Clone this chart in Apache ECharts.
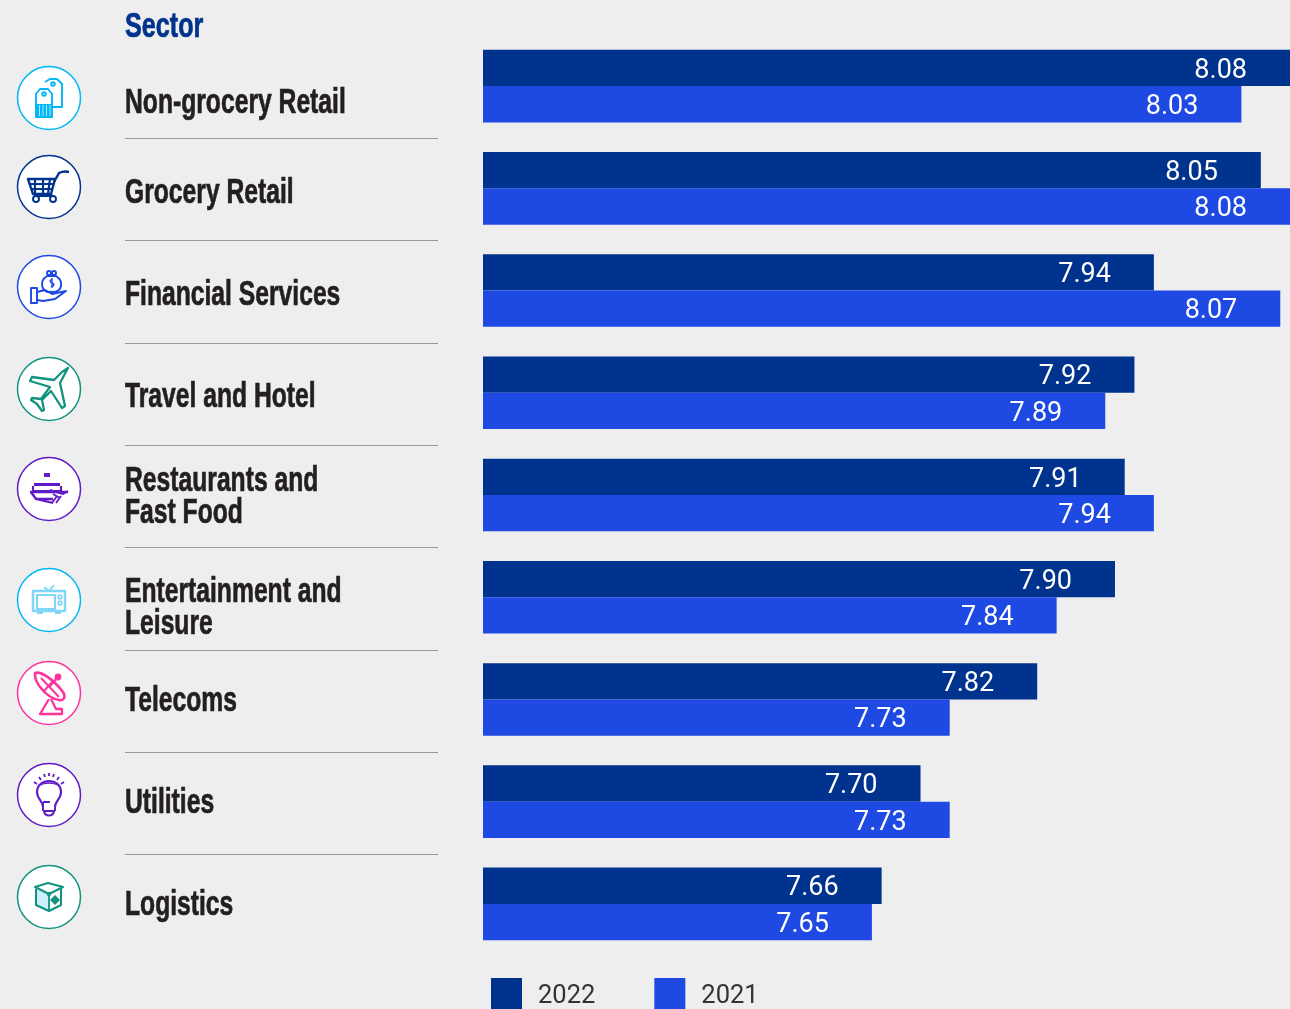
<!DOCTYPE html>
<html>
<head>
<meta charset="utf-8">
<style>
  html, body { margin: 0; padding: 0; background: #eeeeee; overflow: hidden; }
  #chart { width: 1290px; height: 1009px; }
</style>
<script src="https://cdn.jsdelivr.net/npm/echarts@6/dist/echarts.min.js"></script>
</head>
<body>
<div id="chart"></div>
<script>
// Sector scores by year
const sectors = [
  'Non-grocery Retail',
  'Grocery Retail',
  'Financial Services',
  'Travel and Hotel',
  'Restaurants and\nFast Food',
  'Entertainment and\nLeisure',
  'Telecoms',
  'Utilities',
  'Logistics'
];
const values2022 = [8.08, 8.05, 7.94, 7.92, 7.91, 7.90, 7.82, 7.70, 7.66];
const values2021 = [8.03, 8.08, 8.07, 7.89, 7.94, 7.84, 7.73, 7.73, 7.65];
const yearNames = ['2022', '2021'];
const columnTitle = 'Sector';

// Palette
const NAVY = '#00338D', COBALT = '#1E49E2', CYAN = '#00B8F5', PURPLE = '#5F1BC8',
      PINK = '#FD349C', TEAL = '#12937F', SKY = '#7FD6F8', INK = '#231F20';

// Left column layout, one entry per row
const iconY = [98, 187, 287, 389, 489, 600, 693, 795, 897];
const labelY = [103, 193, 295, 397, 497, 608, 701, 803, 905];
const ruleY = [138, 240, 343, 445, 547, 650, 752, 854];
const ICON_X = 49, ICON_R = 32, LABEL_X = 125, RULE_END = 438;
const HEAD_FONT = 'bold 35px "Liberation Sans Narrow", "Liberation Sans", sans-serif';
const HEAD_SCALE = 0.705;

// Icon pieces, in a 64x64 box whose corner is the corner of the circle
const ln = (d, w) => ({ d, w: (w || 1.6) * 1.2 });
const solid = (d, c) => ({ d, fill: c || true });
const dot = (x, y, r) => `M${x - r} ${y}A${r} ${r} 0 1 1 ${x + r} ${y}A${r} ${r} 0 1 1 ${x - r} ${y}Z`;

const icons = [
  { color: CYAN, parts: [
    ln('M28 16L33 13H40L45 18V41H36'), ln(dot(36, 18, 1.8)),
    ln('M19 28L23 23H31L35 28V51H19Z'), ln(dot(27, 28, 1.8)),
    solid('M19 38H35V51H19Z'),
    { d: 'M22.5 39V50M26 39V50M29.5 39V50M33 39V50', w: 0.9, stroke: '#bfeeff' }
  ]},
  { color: NAVY, parts: [
    ln('M11 24H38L34 39H16Z', 2), ln('M13 29H37M15 34H35.5M18 24V39M26 24V39M33 24L31 39', 1.8),
    ln('M37 27L42 18C44 17 48 16 52 17', 2), ln('M34 39L35 41H17', 1.6),
    ln(dot(19, 44, 3), 1.6), ln(dot(36, 44, 3), 1.6)
  ]},
  { color: COBALT, parts: [
    ln('M30 21C22 26 24 38 34 37C46 38 47 26 39 21Z'), ln(dot(32, 18, 2)), ln(dot(37, 18, 2)),
    ln('M14 33H20V48H14Z'), ln('M20 37L28 35L35 39L49 36L38 44L26 46L20 45'),
    ln('M35.5 25C33 24 32 27 35 28C38 29 37 32 34 31M35 23V33', 1.1)
  ]},
  { color: TEAL, parts: [
    ln('M51 11L43 26L48 49L45 51L34 34L25 43L27 53L25 54L20 47L14 43L15 41L24 42L33 30L13 24L15 20L37 23L45 15Z', 1.9)
  ]},
  { color: PURPLE, parts: [
    solid('M27 16H33V20H27Z'),
    solid('M17 26H43V29H17Z'),
    ln('M16 29V34H44V29', 1.8),
    ln('M13 35H51M14 35L19 42H36M36 46L19 42', 1.9),
    ln('M33 33L46 37L51 34M36 37L43 41M35 46L40 39M39 46L44 39', 1.6)
  ]},
  { color: SKY, ring: CYAN, parts: [
    ln('M16 23H48V43H16Z', 2), ln('M20 27H38V41H20Z', 1.8), ln(dot(43, 29, 1.8), 1.4), ln(dot(43, 35, 1.8), 1.4),
    ln('M27 19L32 23L37 17', 1.6), solid('M20 43H26V46H20ZM38 43H44V46H38Z')
  ]},
  { color: PINK, parts: [
    ln('M18 12C24 10 36 18 46 31C49 36 47 40 42 39C30 37 17 22 18 12Z', 2.2),
    ln('M24 17L42 36M36 20L26 31', 1.6), ln('M32 26L40 17', 2), solid(dot(41, 16, 3.4)),
    ln('M32 38L23 53H45V48H39L34 38', 1.9)
  ]},
  { color: PURPLE, parts: [
    ln('M26 44C26 38 20 36 20 29C20 22 26 18 32 18C38 18 44 22 44 29C44 36 38 38 38 44', 1.8),
    solid('M23 23C26 18 38 18 41 23C37 20 27 20 23 23Z'),
    ln('M26 39H33M26 39V48M38 44V48M26 48H38', 1.6), ln('M27 48C28 54 36 54 37 48', 1.6),
    ln('M17 19L20 21M22 14L24 17M27 11L28 14M32 10V13M37 11L36 14M42 14L40 17M47 19L44 21', 1.5)
  ]},
  { color: TEAL, parts: [
    { d: 'M19 24L32 29V46L19 40Z', fill: '#cfeefb', noStroke: true },
    ln('M18 22L31 18L46 22L32 29Z', 1.7), ln('M19 24V40L32 46L44 40V24', 1.7), ln('M32 29V46', 1.5),
    solid('M38 30L43 35L38 40L33 35Z'), solid(dot(32, 29, 2.2))
  ]}
];

const chart = echarts.init(document.getElementById('chart'));

// Left column: ring, glyph, sector name and the rule under each row
function renderRow(params, api) {
  const i = params.dataIndex;
  const icon = icons[i];
  const children = [{
    type: 'circle',
    shape: { cx: ICON_X, cy: iconY[i], r: ICON_R - 0.5 },
    style: { fill: '#ffffff', stroke: icon.ring || icon.color, lineWidth: 1.5 }
  }];
  icon.parts.forEach(p => {
    children.push({
      type: 'path',
      x: ICON_X - ICON_R,
      y: iconY[i] - ICON_R,
      shape: { pathData: 'M0 0M64 64' + p.d, x: 0, y: 0, width: 64, height: 64 },
      style: {
        fill: p.fill ? (p.fill === true ? icon.color : p.fill) : 'none',
        stroke: (p.fill || p.noStroke) ? null : (p.stroke || icon.color),
        lineWidth: p.w || 0,
        lineJoin: 'round'
      }
    });
  });
  children.push({
    type: 'text',
    x: LABEL_X,
    y: labelY[i],
    scaleX: HEAD_SCALE,
    style: {
      text: sectors[i],
      font: HEAD_FONT,
      fill: INK,
      stroke: INK,
      lineWidth: 0.7,
      lineHeight: 32,
      verticalAlign: 'middle',
      align: 'left'
    }
  });
  if (i < ruleY.length) {
    children.push({
      type: 'line',
      shape: { x1: LABEL_X, y1: ruleY[i] + 0.5, x2: RULE_END, y2: ruleY[i] + 0.5 },
      style: { stroke: '#999999', lineWidth: 1 }
    });
  }
  return { type: 'group', silent: true, children };
}

const valueLabel = {
  show: true,
  position: 'insideRight',
  distance: 43,
  offset: [0, 3],
  color: '#ffffff',
  fontFamily: 'Roboto',
  fontSize: 27,
  formatter: p => p.value.toFixed(2)
};

chart.setOption({
  animation: false,
  backgroundColor: '#eeeeee',
  grid: { left: 483, right: 0, top: 35, bottom: 54 },
  xAxis: { type: 'value', min: 7.25, max: 8.08, show: false },
  yAxis: { type: 'category', inverse: true, data: sectors, show: false },
  legend: {
    data: yearNames,
    left: 491,
    top: 978,
    padding: 0,
    itemWidth: 31,
    itemHeight: 31,
    itemGap: 59,
    icon: 'rect',
    selectedMode: false,
    formatter: '{year|{name}}',
    textStyle: {
      rich: {
        year: { fontFamily: 'Roboto', fontSize: 25.5, color: '#333333', padding: [6, 0, 0, 11] }
      }
    }
  },
  graphic: [{
    type: 'text',
    x: LABEL_X,
    y: 27,
    scaleX: 0.72,
    style: { text: columnTitle, font: HEAD_FONT, fill: NAVY, stroke: NAVY, lineWidth: 0.7, verticalAlign: 'middle' }
  }],
  series: [
    { name: yearNames[0], type: 'bar', data: values2022, barWidth: 36.3, barGap: 0, itemStyle: { color: NAVY }, label: valueLabel, silent: true },
    { name: yearNames[1], type: 'bar', data: values2021, barWidth: 36.3, barGap: 0, itemStyle: { color: COBALT }, label: valueLabel, silent: true },
    { type: 'custom', renderItem: renderRow, data: sectors.map((s, i) => [7.25, i]), encode: { x: 0, y: 1 }, clip: false, silent: true, z: 5 }
  ]
});
</script>
</body>
</html>
